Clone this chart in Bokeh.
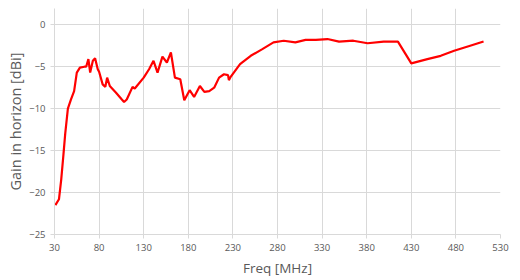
from bokeh.plotting import figure
from bokeh.models import Range1d, FixedTicker
from bokeh.embed import file_html
from bokeh.resources import INLINE

freq = [31, 35, 37.5, 40, 42, 45, 48.5, 52, 55, 58.5, 63.5, 65.5, 68, 70, 73, 75.5, 78.5, 80,
        84, 87, 89, 92, 99, 105.5, 108, 111, 117.5, 120, 130, 136, 141, 145.5, 151, 156, 160.5,
        165, 171, 175.5, 181.5, 186.5, 193, 198, 203.5, 209, 214.5, 220, 224.5, 225.5, 227.5,
        238, 250, 263, 275.5, 287, 300, 311.5, 323, 336, 349, 365, 381, 399, 415, 430, 448,
        463, 478, 496, 511]
gain = [-21.5, -20.8, -18.5, -15.5, -13.0, -10.0, -8.9, -7.9, -5.7, -5.1, -5.0, -5.0, -4.1, -5.7,
        -4.3, -4.0, -5.3, -5.6, -7.1, -7.4, -6.3, -7.3, -8.1, -8.9, -9.2, -8.9, -7.4, -7.6, -6.3,
        -5.3, -4.3, -5.7, -3.8, -4.5, -3.3, -6.3, -6.5, -9.0, -7.8, -8.6, -7.3, -8.0, -7.9, -7.5,
        -6.3, -5.9, -6.0, -6.6, -6.2, -4.7, -3.7, -2.9, -2.1, -1.9, -2.1, -1.8, -1.8, -1.7, -2.0,
        -1.9, -2.2, -2.0, -2.0, -4.6, -4.1, -3.7, -3.1, -2.5, -2.0]

x_ticks = [30, 80, 130, 180, 230, 280, 330, 380, 430, 480, 530]
y_ticks = [0, -5, -10, -15, -20, -25]

FONT = "Open Sans"
TXT = "#595959"
GRID = "#d9d9d9"

p = figure(width=520, height=280, output_backend="svg", toolbar_location=None,
           x_range=Range1d(30, 530), y_range=Range1d(-25, 1.94),
           min_border_left=54, min_border_right=20, min_border_top=8, min_border_bottom=46)
p.outline_line_color = None
p.background_fill_color = "white"
p.border_fill_color = "white"

p.line(freq, gain, line_color="#ff0000", line_width=2.2)

p.xaxis.ticker = FixedTicker(ticks=x_ticks)
p.yaxis.ticker = FixedTicker(ticks=y_ticks)
for ax in (p.xaxis[0], p.yaxis[0]):
    ax.axis_line_color = GRID
    ax.major_tick_line_color = GRID
    ax.major_tick_in = 0
    ax.major_tick_out = 4
    ax.minor_tick_line_color = None
    ax.major_label_text_font = FONT
    ax.major_label_text_font_size = "9.5px"
    ax.major_label_text_color = TXT
    ax.axis_label_text_font = FONT
    ax.axis_label_text_font_style = "normal"
    ax.axis_label_text_color = TXT

p.xaxis.axis_label = "Freq [MHz]"
p.yaxis.axis_label = "Gain in horizon [dBi]"
p.xaxis.axis_label_text_font_size = "13.5px"
p.yaxis.axis_label_text_font_size = "14.5px"
p.xaxis.major_label_standoff = 5
p.yaxis.major_label_standoff = 5
p.xaxis.axis_label_standoff = 5
p.yaxis.axis_label_standoff = 1

p.xgrid.ticker = FixedTicker(ticks=x_ticks)
p.ygrid.ticker = FixedTicker(ticks=y_ticks)
p.xgrid.grid_line_color = GRID
p.ygrid.grid_line_color = GRID

open("out.html", "w").write(file_html(p, INLINE))
